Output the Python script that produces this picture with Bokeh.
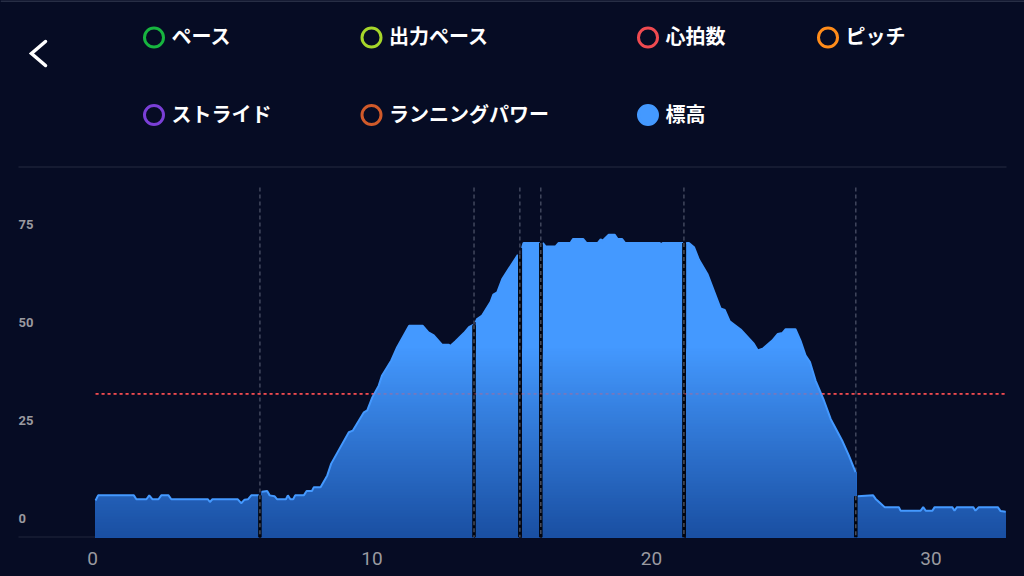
import numpy as np
from bokeh.core.properties import value
from bokeh.embed import file_html
from bokeh.models import FixedTicker, Range1d
from bokeh.plotting import figure
from bokeh.resources import INLINE

# elevation per lap (km, m)
lap1_km = [0.11, 0.20, 1.48, 1.57, 1.93, 2.03, 2.15, 2.36, 2.46, 2.72, 2.82, 4.13, 4.20, 4.29, 5.20, 5.32, 5.44, 5.56, 5.68, 5.95]
lap1_m = [4.6, 5.9, 5.9, 4.9, 4.9, 5.9, 4.9, 4.9, 5.9, 5.9, 4.9, 4.9, 4.2, 4.9, 4.9, 3.9, 4.8, 4.9, 5.9, 5.9]
lap2_km = [6.06, 6.25, 6.34, 6.51, 6.61, 6.92, 6.99, 7.08, 7.18, 7.25, 7.56, 7.66, 7.85, 7.92, 8.16, 8.40, 8.54, 9.17, 9.31, 9.71, 9.83,
           10.01, 10.24, 10.36, 10.69, 10.90, 11.33, 11.81, 12.02, 12.21, 12.51, 12.75, 12.80, 12.99, 13.29, 13.47, 13.59, 13.62]
lap2_m = [6.8, 7.0, 5.9, 5.7, 4.9, 4.9, 5.9, 4.9, 4.9, 5.9, 5.9, 7.0, 7.0, 8.0, 8.0, 11.0, 14.0, 22.0, 22.4, 27.1, 27.6,
          30.9, 33.9, 36.5, 40.3, 43.7, 49.2, 49.2, 47.5, 46.7, 44.3, 44.3, 44.0, 45.2, 47.3, 48.8, 49.3, 49.3]
lap3_km = [13.71, 13.76, 13.94, 14.24, 14.34, 14.48, 14.66, 15.22]
lap3_m = [50.1, 50.9, 51.8, 55.2, 57.1, 57.7, 61.1, 67.3]
lap4_km = [15.37, 15.42, 16.00]
lap4_m = [69.0, 70.3, 70.3]
lap5_km = [16.11, 16.21, 16.57, 16.68, 17.10, 17.19, 17.56, 17.67, 18.08, 18.18, 18.26, 18.47, 18.68, 18.79, 18.95, 19.05, 20.30, 20.33, 20.40, 21.13]
lap5_m = [70.3, 69.4, 69.4, 70.3, 70.3, 71.3, 71.3, 70.3, 70.3, 71.2, 70.9, 72.4, 72.4, 71.3, 71.3, 70.3, 70.3, 69.9, 70.3, 70.3]
lap6_km = [21.24, 21.34, 21.52, 21.70, 22.00, 22.47, 22.62, 22.80, 23.19, 23.66, 23.80, 24.00, 24.32, 24.52, 24.68, 24.80, 25.15,
           25.33, 25.51, 25.67, 25.87, 26.17, 26.41, 26.82, 27.06, 27.30]
lap6_m = [70.3, 70.3, 69.2, 66.0, 62.4, 53.6, 53.2, 50.3, 48.2, 44.6, 42.9, 43.4, 45.4, 47.1, 47.3, 48.3, 48.3,
          45.4, 41.6, 39.9, 35.2, 30.1, 25.4, 19.9, 16.1, 11.8]
lap7_km = [27.38, 27.93, 28.02, 28.19, 28.34, 28.85, 28.91, 29.63, 29.72, 29.81, 30.05, 30.13, 30.76, 30.84, 30.93, 31.51, 31.59, 31.71, 32.39, 32.49, 32.67]
lap7_m = [5.7, 5.9, 5.0, 3.9, 2.9, 2.9, 2.0, 2.0, 2.9, 2.0, 2.0, 2.9, 2.9, 2.0, 2.9, 2.9, 2.0, 2.9, 2.9, 1.9, 1.7]

lap_marks_km = [5.99, 13.65, 15.29, 16.04, 21.16, 27.31]
average_m = 31.8
x_ticks = [0, 10, 20, 30]
y_ticks = [0, 25, 50, 75]
legend_names = ["ペース", "出力ペース", "心拍数", "ピッチ", "ストライド", "ランニングパワー", "標高"]
legend_colors = ["#17b53f", "#a6d62a", "#ef4a50", "#ff8c1a", "#7a3fd6", "#d05a2a", "#4499ff"]

laps = [(lap1_km, lap1_m), (lap2_km, lap2_m), (lap3_km, lap3_m), (lap4_km, lap4_m),
        (lap5_km, lap5_m), (lap6_km, lap6_m), (lap7_km, lap7_m)]

BG = "#060c24"
X0, X1 = -92 / 27.95, 932 / 27.95
Y0, Y1 = -19 / 3.92, 518 / 3.92


# legend, back arrow and rules are placed by pixel in the photo
def sx(px):
    return X0 + px / 27.95


def sy(py):
    return (518 - py) / 3.92


# page colour goes on the host: frame and border rects leave a light seam in svg
p = figure(width=1024, height=576, frame_width=1024, frame_height=537, output_backend="svg", toolbar_location=None,
           x_range=Range1d(X0, X1), y_range=Range1d(Y0, Y1),
           min_border_left=0, min_border_right=0, min_border_top=0, min_border_bottom=39,
           background_fill_color=None, border_fill_color=None, outline_line_color=None,
           styles={"position": "fixed", "left": "0px", "top": "0px", "background-color": BG})
p.grid.visible = False
p.yaxis.visible = False

p.xaxis.ticker = FixedTicker(ticks=x_ticks)
p.xaxis.axis_line_color = None
p.xaxis.major_tick_line_color = None
p.xaxis.minor_tick_line_color = None
p.xaxis.major_label_text_color = "#9a9aa0"
p.xaxis.major_label_text_font = "Roboto"
p.xaxis.major_label_text_font_size = "19px"
p.xaxis.major_label_standoff = 8

# rules
p.line([sx(0), sx(1024)], [sy(0.5), sy(0.5)], line_color="#333a50", line_width=1.5)
p.line([sx(18), sx(1006)], [sy(166.5), sy(166.5)], line_color="#242a40", line_width=1)
p.line([sx(18), sx(1005)], [Y0, Y0], line_color="#20263c", line_width=2)
p.segment(lap_marks_km, sy(187), lap_marks_km, Y0, line_color="#4a5066", line_width=1.3, line_dash="4 3")
p.line([lap1_km[0], lap7_km[-1]], [average_m, average_m], line_color="#e8454a", line_width=1.8, line_dash="3 3")

# y labels sit left aligned inside the plot, an axis cannot do that
p.text([sx(18)] * len(y_ticks), y_ticks, text=[str(t) for t in y_ticks], text_color="#9a9aa0",
       text_font=value("Roboto"), text_font_style="bold", text_font_size="13px", text_baseline="middle")

# no gradient fill in bokeh: stack clipped polygons from light to dark
n_bands = 64
top_color = np.array([0x44, 0x99, 0xff])
low_color = np.array([0x1a, 0x50, 0xa3])
for k in range(n_bands):
    # first band is the whole area, the rest are cut lower and lower
    limit = Y1 if k == 0 else sy(345 + (537 - 345) * k / n_bands)
    mix = k / (n_bands - 1)
    r, g, b = (top_color + (low_color - top_color) * mix).astype(int)
    xs, ys = [], []
    for km, m in laps:
        xd = np.arange(km[0], km[-1] + 0.02, 0.02)
        yd = np.minimum(np.interp(xd, km, m), limit)
        xs.append(np.concatenate([xd, [xd[-1], xd[0]]]))
        ys.append(np.concatenate([yd, [Y0, Y0]]))
    p.patches(xs, ys, fill_color=f"#{r:02x}{g:02x}{b:02x}", line_color=None)

for km, m in laps:
    p.line(km, m, line_color="#4499ff", line_width=2)

# dark strip in the lap gaps, then the marker over it
gap_tops = [min(a[1][-1], b[1][0]) for a, b in zip(laps[:-1], laps[1:])]
p.segment(lap_marks_km, gap_tops, lap_marks_km, Y0, line_color="#02040c", line_width=3.5)
p.segment(lap_marks_km, gap_tops, lap_marks_km, Y0, line_color="#555a68", line_width=1.3, line_dash="4 3")
p.line([lap1_km[0], lap7_km[-1]], [average_m, average_m], line_color="#ff5a60", line_width=1.8, line_dash="3 3", line_alpha=0.3)

# back arrow
p.line([sx(45), sx(31), sx(45)], [sy(41), sy(53), sy(65)], line_color="white", line_width=3.5, line_cap="round", line_join="miter")

# legend
legend_px = [153.5, 371, 647.5, 827.5, 153.5, 371, 647.5]
legend_py = [37, 37, 37, 37, 114.5, 114.5, 114.5]
for name, color, px, py in zip(legend_names, legend_colors, legend_px, legend_py):
    fill = color if name == "標高" else None
    p.scatter([sx(px)], [sy(py)], size=19, fill_color=fill, line_color=color, line_width=3)
    p.text([sx(px + 17.5)], [sy(py - 2)], text=[name], text_color="white", text_font=value("Noto Sans CJK JP"),
           text_font_style="bold", text_font_size="20px", text_baseline="middle")

open("out.html", "w").write(file_html(p, INLINE))
